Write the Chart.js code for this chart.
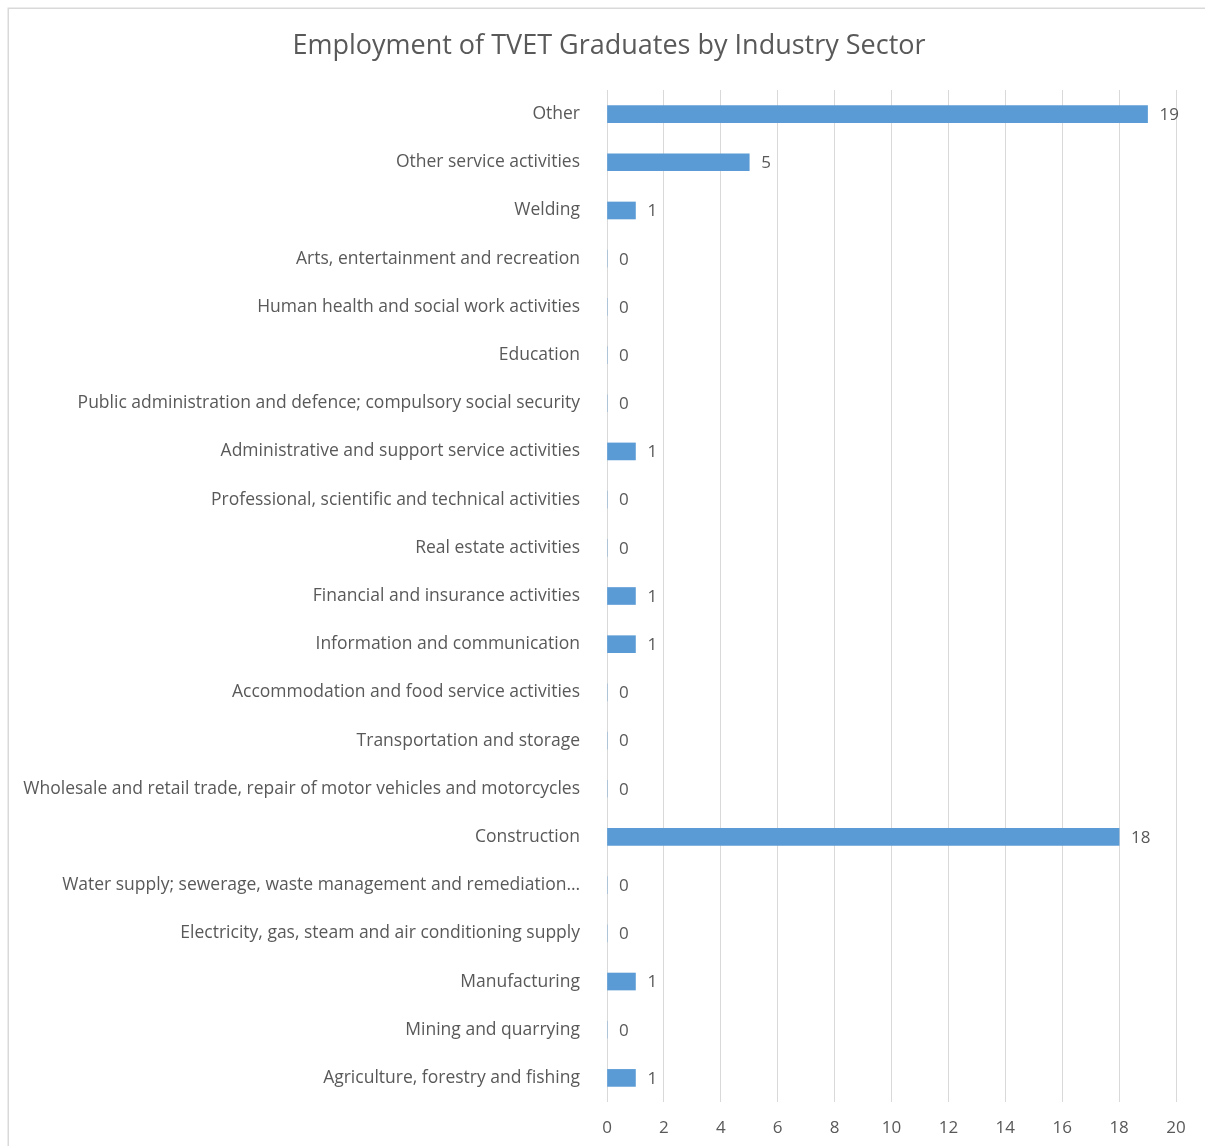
<!DOCTYPE html>
<html>
<head>
<meta charset="utf-8">
<title>Employment of TVET Graduates by Industry Sector</title>
<script src="https://cdn.jsdelivr.net/npm/chart.js@4/dist/chart.umd.min.js"></script>
<style>
  html, body { margin: 0; padding: 0; background: #fff; }
  #wrap { width: 1205px; height: 1146px; position: relative; }
</style>
</head>
<body>
<div id="wrap"><canvas id="sector-chart" width="1205" height="1146"></canvas></div>
<script>
// ========== DATA ==========
const CHART_TITLE = 'Employment of TVET Graduates by Industry Sector';

const sectors = [
    'Other',
    'Other service activities',
    'Welding',
    'Arts, entertainment and recreation',
    'Human health and social work activities',
    'Education',
    'Public administration and defence; compulsory social security',
    'Administrative and support service activities',
    'Professional, scientific and technical activities',
    'Real estate activities',
    'Financial and insurance activities',
    'Information and communication',
    'Accommodation and food service activities',
    'Transportation and storage',
    'Wholesale and retail trade, repair of motor vehicles and motorcycles',
    'Construction',
    'Water supply; sewerage, waste management and remediation…',
    'Electricity, gas, steam and air conditioning supply',
    'Manufacturing',
    'Mining and quarrying',
    'Agriculture, forestry and fishing'
];

const graduates = [19, 5, 1, 0, 0, 0, 0, 1, 0, 0, 1, 1, 0, 0, 0, 18, 0, 0, 1, 0, 1];

const xTicks = [0, 2, 4, 6, 8, 10, 12, 14, 16, 18, 20];

// ========== STYLE ==========
const FONT = "'Open Sans', 'Liberation Sans', sans-serif";
const TEXT_COLOR = '#595959';
const GRID_COLOR = '#d9d9d9';
const BAR_COLOR = '#5b9bd5';

// Frame + title drawn straight on the canvas
const framePlugin = {
    id: 'frame',
    beforeDraw(chart) {
        const c = chart.ctx;
        c.save();
        c.fillStyle = '#fff';
        c.fillRect(0, 0, chart.width, chart.height);
        c.strokeStyle = GRID_COLOR;
        c.lineWidth = 1.5;
        c.beginPath();
        c.moveTo(8.25, chart.height);
        c.lineTo(8.25, 8.25);
        c.lineTo(chart.width, 8.25);
        c.stroke();
        c.fillStyle = TEXT_COLOR;
        c.font = `27px ${FONT}`;
        c.textAlign = 'center';
        c.textBaseline = 'middle';
        c.fillText(CHART_TITLE, 609, 46);
        c.restore();
    }
};

// Value printed just past the end of each bar
const valueLabels = {
    id: 'valueLabels',
    afterDatasetsDraw(chart) {
        const c = chart.ctx;
        const meta = chart.getDatasetMeta(0);
        c.save();
        c.fillStyle = TEXT_COLOR;
        c.font = `17px ${FONT}`;
        c.textAlign = 'left';
        c.textBaseline = 'middle';
        meta.data.forEach((bar, i) => {
            c.fillText(String(graduates[i]), bar.x + 12, bar.y + 1);
        });
        c.restore();
    }
};

new Chart(document.getElementById('sector-chart'), {
    type: 'bar',
    data: {
        labels: sectors,
        datasets: [{
            label: 'Graduates',
            data: graduates,
            backgroundColor: BAR_COLOR,
            borderWidth: 0,
            barThickness: 17
        }]
    },
    options: {
        indexAxis: 'y',
        responsive: false,
        animation: false,
        events: [],
        layout: { padding: { top: 90, right: 29, left: 0, bottom: 0 } },
        scales: {
            x: {
                min: 0,
                max: 20,
                afterBuildTicks: (scale) => { scale.ticks = xTicks.map(v => ({ value: v })); },
                afterFit: (scale) => { scale.height = 44; },
                grid: { color: GRID_COLOR, lineWidth: 1, drawTicks: false },
                border: { display: false },
                ticks: { color: TEXT_COLOR, font: { family: FONT, size: 17 }, padding: 16, maxRotation: 0 }
            },
            y: {
                afterFit: (scale) => { scale.width = 607; },
                grid: { display: false, drawTicks: false },
                border: { display: false },
                ticks: { color: TEXT_COLOR, font: { family: FONT, size: 17.5 }, padding: 27, autoSkip: false }
            }
        },
        plugins: {
            legend: { display: false },
            title: { display: false },
            tooltip: { enabled: false }
        }
    },
    plugins: [framePlugin, valueLabels]
});
</script>
</body>
</html>
